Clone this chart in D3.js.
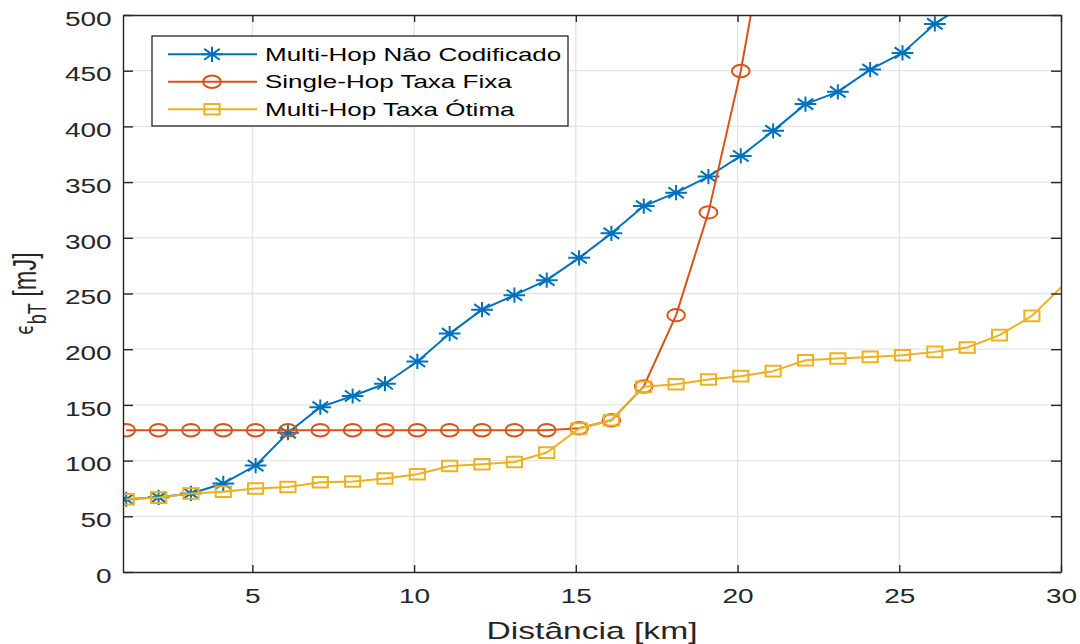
<!DOCTYPE html>
<html>
<head>
<meta charset="utf-8">
<script src="https://cdn.jsdelivr.net/npm/d3@7"></script>
<style>
  html, body { margin: 0; padding: 0; background: #fff; }
  svg { display: block; font-family: "Liberation Sans", Arial, Helvetica, sans-serif; }
</style>
</head>
<body>
<svg id="chart" width="1080" height="644"></svg>
<script>
// Distances (km) at which each scheme was evaluated
const distances = [1.1, 2.1, 3.1, 4.1, 5.1, 6.1, 7.1, 8.1, 9.1, 10.1,
                   11.1, 12.1, 13.1, 14.1, 15.1, 16.1, 17.1, 18.1, 19.1, 20.1,
                   21.1, 22.1, 23.1, 24.1, 25.1, 26.1, 27.1, 28.1, 29.1, 30.1];

// Energy per bit (mJ) for each scheme
const multiHopUncoded = [65.3, 67, 70.5, 79.5, 95.5, 125, 148, 158, 169, 189,
                         214, 235.5, 248.5, 262, 282, 304, 328.5, 340.5, 355, 373.5,
                         396, 420, 431, 451, 466, 492, 511];
const singleHopFixed  = [127.3, 127.3, 127.3, 127.3, 127.3, 127.3, 127.3, 127.3, 127.3, 127.3,
                         127.3, 127.3, 127.3, 127.3, 129, 136.2, 166.5, 230.6, 322.8, 449.7,
                         612];
const multiHopOptimal = [65.3, 66.8, 70.4, 72, 74.9, 76.3, 80.5, 81.3, 83.9, 87.7,
                         95.2, 96.7, 98.8, 107.2, 128.8, 136.2, 166.2, 168.6, 172.8, 175.8,
                         180.3, 190.1, 191.7, 193.1, 194.6, 197.6, 201.5, 212.6, 229.9, 258];

const seriesNames = ["Multi-Hop Não Codificado", "Single-Hop Taxa Fixa", "Multi-Hop Taxa Ótima"];
const seriesColors = ["#0072BD", "#D95319", "#EDB120"];
const seriesMarkers = ["asterisk", "circle", "square"];

const xTicks = [5, 10, 15, 20, 25, 30];
const yTicks = [0, 50, 100, 150, 200, 250, 300, 350, 400, 450, 500];
const xLabel = "Distância [km]";

// Text and markers are drawn with a horizontal stretch
const SX = 1.43;
const axisColor = "#262626";
const gridColor = "#e3e3e3";

const svg = d3.select("#chart");
const plotLeft = 123, plotRight = 1061, plotTop = 15, plotBottom = 572;

const x = d3.scaleLinear().domain([1, 30]).range([plotLeft, plotRight]);
const y = d3.scaleLinear().domain([0, 500]).range([plotBottom, plotTop]);

// Background
svg.append("rect").attr("width", 1080).attr("height", 644).attr("fill", "#fff");

// Grid
const grid = svg.append("g");
grid.selectAll("line.vx").data(xTicks.filter(t => t > 1 && t < 30)).join("line")
  .attr("x1", d => x(d)).attr("x2", d => x(d)).attr("y1", plotTop).attr("y2", plotBottom)
  .attr("stroke", gridColor).attr("stroke-width", 1.3);
grid.selectAll("line.hy").data(yTicks.filter(t => t > 0 && t < 500)).join("line")
  .attr("x1", plotLeft).attr("x2", plotRight).attr("y1", d => y(d)).attr("y2", d => y(d))
  .attr("stroke", gridColor).attr("stroke-width", 1.3);

// Clip region for data
svg.append("defs").append("clipPath").attr("id", "plotClip")
  .append("rect").attr("x", plotLeft).attr("y", plotTop)
  .attr("width", plotRight - plotLeft).attr("height", plotBottom - plotTop);

// Marker shapes (stretched horizontally by SX)
function markerPath(type) {
  if (type === "circle") {
    const rx = 6.2 * SX, ry = 6.2;
    return `M${-rx},0A${rx},${ry} 0 1,0 ${rx},0A${rx},${ry} 0 1,0 ${-rx},0Z`;
  }
  if (type === "square") {
    const hx = 5.3 * SX, hy = 5.3;
    return `M${-hx},${-hy}H${hx}V${hy}H${-hx}Z`;
  }
  // asterisk: plus and cross combined
  const h = 7.6, hx = h * SX, d = h * 0.72, dx = d * SX;
  return `M${-hx},0H${hx}M0,${-h}V${h}M${-dx},${-d}L${dx},${d}M${-dx},${d}L${dx},${-d}`;
}

const allSeries = [multiHopUncoded, singleHopFixed, multiHopOptimal];
const plot = svg.append("g").attr("clip-path", "url(#plotClip)");
const line = d3.line().x(d => x(d[0])).y(d => y(d[1]));

allSeries.forEach((vals, i) => {
  const pts = vals.map((v, k) => [distances[k], v]);
  const g = plot.append("g");
  g.append("path").datum(pts).attr("d", line)
    .attr("fill", "none").attr("stroke", seriesColors[i]).attr("stroke-width", 2)
    .attr("stroke-linejoin", "round");
  g.selectAll("path.m").data(pts.filter(p => p[0] <= 30 && p[1] <= 500)).join("path")
    .attr("class", "m")
    .attr("transform", p => `translate(${x(p[0])},${y(p[1])})`)
    .attr("d", markerPath(seriesMarkers[i]))
    .attr("fill", "none").attr("stroke", seriesColors[i]).attr("stroke-width", 2);
});

// Axes (ticks point inward)
function styleAxis(g) {
  g.select(".domain").attr("stroke", axisColor).attr("stroke-width", 1.4);
  g.selectAll(".tick line").attr("stroke", axisColor).attr("stroke-width", 1.4);
}

const gx = svg.append("g").attr("transform", `translate(0,${plotBottom})`)
  .call(d3.axisBottom(x).tickValues(xTicks).tickSizeInner(-7).tickSizeOuter(0).tickFormat(d3.format("d")));
styleAxis(gx);
gx.selectAll(".tick text")
  .attr("y", 17).attr("dy", "0.71em")
  .attr("transform", `scale(${SX},1)`)
  .attr("font-size", 19.6).attr("fill", axisColor)
  .attr("font-family", "Liberation Sans, Arial, sans-serif");

const gxTop = svg.append("g").attr("transform", `translate(0,${plotTop})`)
  .call(d3.axisTop(x).tickValues(xTicks).tickSizeInner(-7).tickSizeOuter(0).tickFormat(""));
styleAxis(gxTop);

const gy = svg.append("g").attr("transform", `translate(${plotLeft},0)`)
  .call(d3.axisLeft(y).tickValues(yTicks).tickSizeInner(-10).tickSizeOuter(0).tickFormat(d3.format("d")));
styleAxis(gy);
gy.selectAll(".tick text")
  .attr("x", -11.3 / SX).attr("y", 4).attr("dy", "0.32em")
  .attr("transform", `scale(${SX},1)`)
  .attr("font-size", 19.6).attr("fill", axisColor)
  .attr("font-family", "Liberation Sans, Arial, sans-serif");

const gyRight = svg.append("g").attr("transform", `translate(${plotRight},0)`)
  .call(d3.axisRight(y).tickValues(yTicks).tickSizeInner(-10).tickSizeOuter(0).tickFormat(""));
styleAxis(gyRight);

// Axis labels
svg.append("text")
  .attr("transform", `translate(${(plotLeft + plotRight) / 2},639) scale(${SX},1)`)
  .attr("text-anchor", "middle").attr("font-size", 23.5).attr("fill", axisColor)
  .text(xLabel);

const yl = svg.append("text")
  .attr("transform", `translate(36,${(plotTop + plotBottom) / 2}) scale(${SX},1) rotate(-90)`)
  .attr("text-anchor", "middle").attr("font-size", 23.5).attr("fill", axisColor);
yl.append("tspan").attr("font-family", "DejaVu Sans, sans-serif").attr("font-size", 17).attr("dy", -2).text("ϵ");
yl.append("tspan").attr("font-size", 18).attr("dy", 9).text("bT");
yl.append("tspan").attr("dy", -7).text(" [mJ]");

// Legend
const lg = svg.append("g");
lg.append("rect").attr("x", 152).attr("y", 36).attr("width", 416).attr("height", 90)
  .attr("fill", "#fff").attr("stroke", axisColor).attr("stroke-width", 1.3);
const rowsY = [54.3, 81.7, 109.3];
seriesNames.forEach((name, i) => {
  const row = lg.append("g");
  row.append("line").attr("x1", 168).attr("x2", 257).attr("y1", rowsY[i]).attr("y2", rowsY[i])
    .attr("stroke", seriesColors[i]).attr("stroke-width", 2);
  row.append("path").attr("transform", `translate(212,${rowsY[i]})`)
    .attr("d", markerPath(seriesMarkers[i]))
    .attr("fill", "none").attr("stroke", seriesColors[i]).attr("stroke-width", 2);
  row.append("text")
    .attr("transform", `translate(265,${rowsY[i]}) scale(${SX},1)`)
    .attr("dy", "0.36em").attr("font-size", 18.2).attr("fill", "#000")
    .text(name);
});
</script>
</body>
</html>
